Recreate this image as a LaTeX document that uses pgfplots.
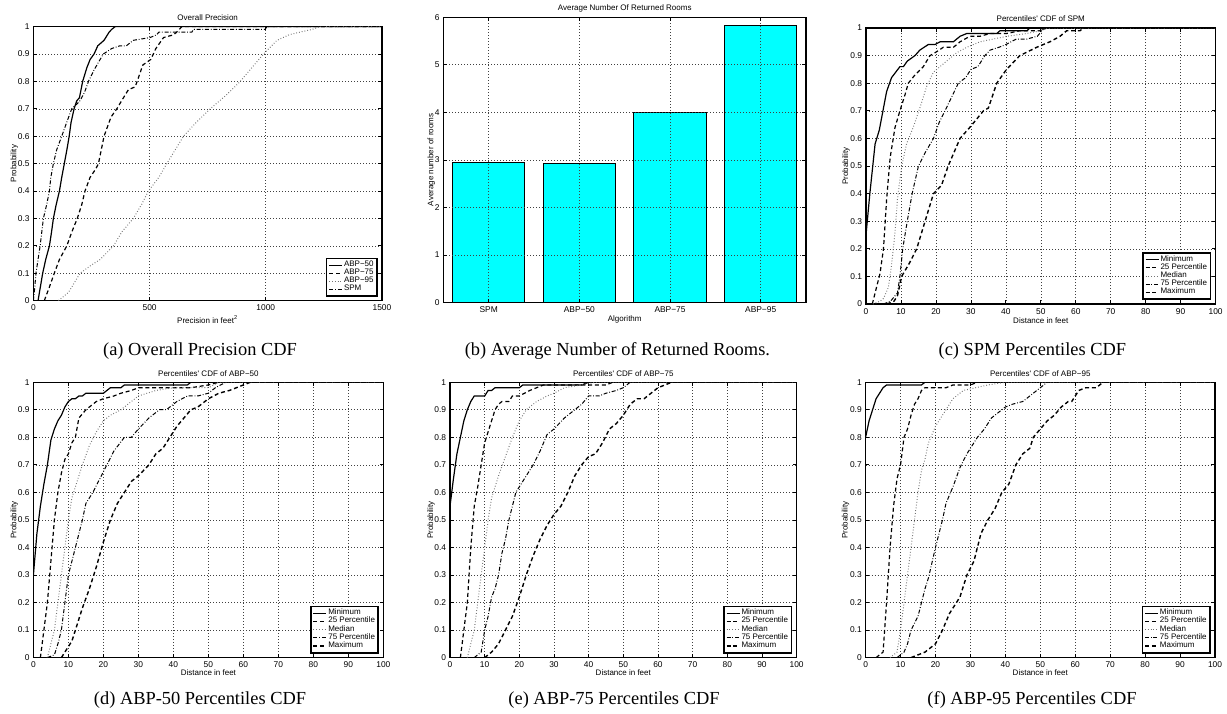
\documentclass[border=0pt]{standalone}
\usepackage{fontspec}
\setmainfont{Liberation Serif}
\newfontfamily\hv{Liberation Sans}
\usepackage{pgfplots}
\pgfplotsset{compat=1.18}
\definecolor{mcyan}{rgb}{0,1,1}

\pgfplotsset{
  mat/.style={
    scale only axis, anchor=south west,
    tick align=inside, xtick pos=both, ytick pos=both,
    xticklabel pos=lower, yticklabel pos=left,
    major tick length=1.8pt,
    tick style={black, line width=0.35pt},
    axis line style={black, line width=0.6pt},
    grid=major,
    major grid style={black!75, line width=0.3pt, dash pattern=on 0.3pt off 1.2pt},
    font=\hv\fontsize{4}{4.8}\selectfont,
    ticklabel style={font=\hv\fontsize{4.2}{5}\selectfont},
    xticklabel style={yshift=1.3pt},
    yticklabel style={xshift=1.6pt},
    /pgf/number format/assume math mode=true,
    /pgf/number format/1000 sep={},
    every axis title shift=0pt,
    title style={at={(axis description cs:0.5,1)}, anchor=center, yshift=4.5pt,
      font=\hv\fontsize{4}{4.8}\selectfont},
    legend cell align=left,
    legend style={at={(axis description cs:1,0)}, anchor=south east, xshift=-2.2pt, yshift=2pt,
      draw=black, line width=0.8pt, fill=white, font=\hv\fontsize{4}{4.8}\selectfont,
      inner xsep=1pt, inner ysep=0.6pt, row sep=-1.5pt, nodes={inner sep=0.6pt}},
    legend image code/.code={\draw[##1] (0pt,0pt) -- (6.5pt,0pt);},
  },
  xlab/.style={every axis x label/.style={at={(axis description cs:0.5,0)}, yshift=-#1, anchor=center}},
  ylab/.style={every axis y label/.style={at={(axis description cs:0,0.5)}, xshift=-#1, rotate=90, anchor=center}},
  cdf/.style={mat, ymin=0, ymax=1, xmin=0, xmax=100,
    ytick={0,0.1,0.2,0.3,0.4,0.5,0.6,0.7,0.8,0.9,1}, xtick={0,10,...,100},
    ylabel={Probability}, xlabel={Distance in feet}},
  l1/.style={black, line width=0.6pt, solid},
  l2/.style={black, line width=0.6pt, dash pattern=on 2pt off 1.4pt},
  l3/.style={black!55, line width=0.5pt, dash pattern=on 0.4pt off 1pt},
  l4/.style={black, line width=0.5pt, dash pattern=on 2pt off 0.9pt on 0.4pt off 0.9pt},
  l5/.style={black, line width=0.7pt, dash pattern=on 2pt off 1.4pt},
}

\begin{document}
\begin{tikzpicture}
\useasboundingbox (0,0) rectangle (613.5pt,-356.5pt);

% (a) overall precision
\begin{axis}[mat, at={(16.7pt,-150.3pt)}, width=174.3pt, height=137pt,
  xmin=0, xmax=1500, ymin=0, ymax=1, xtick={0,500,1000,1500},
  ytick={0,0.1,0.2,0.3,0.4,0.5,0.6,0.7,0.8,0.9,1},
  title={Overall Precision}, xlabel={Precision in feet\textsuperscript{2}}, ylabel={Probability},
  xlab=9.5pt, ylab=9.5pt]
\addplot[l1] coordinates {(20,0) (30,0.05) (40,0.1) (53,0.15) (69,0.2) (78,0.25) (86,0.3) (98,0.35) (112,0.4) (122,0.45) (133,0.5) (144,0.55) (154,0.6) (162,0.65) (175,0.7) (187,0.73) (198,0.74) (212,0.8) (230,0.85) (244,0.88) (261,0.9) (277,0.93) (304,0.95) (326,0.98) (337,0.99) (352,1) (1500,1)};
\addplot[l2] coordinates {(47,0) (69,0.05) (90,0.1) (112,0.15) (144,0.2) (165,0.25) (189,0.3) (208,0.35) (222,0.4) (244,0.45) (268,0.48) (280,0.5) (304,0.6) (334,0.67) (359,0.7) (380,0.73) (409,0.77) (438,0.78) (471,0.86) (505,0.88) (527,0.92) (560,0.96) (603,0.97) (617,0.98) (639,1) (1500,1)};
\addplot[l3] coordinates {(108,0) (151,0.03) (201,0.1) (250,0.13) (287,0.15) (345,0.2) (380,0.25) (430,0.3) (465,0.35) (495,0.4) (540,0.45) (574,0.5) (610,0.55) (646,0.6) (700,0.65) (761,0.7) (830,0.75) (890,0.8) (940,0.85) (990,0.9) (1048,0.95) (1100,0.97) (1148,0.98) (1200,0.99) (1234,1) (1500,1)};
\addplot[l4] coordinates {(0,0) (6,0.05) (11,0.1) (20,0.15) (29,0.2) (36,0.25) (43,0.3) (57,0.35) (69,0.4) (75,0.45) (86,0.5) (100,0.55) (122,0.6) (143,0.65) (165,0.7) (190,0.72) (201,0.73) (220,0.76) (237,0.8) (260,0.84) (280,0.87) (301,0.9) (337,0.92) (372,0.93) (400,0.93) (430,0.95) (502,0.96) (530,0.97) (540,0.98) (682,0.98) (689,0.99) (997,0.99) (1005,1) (1500,1)};
\legend{ABP−50, ABP−75, ABP−95, SPM}
\end{axis}

% (b) average number of returned rooms
\begin{axis}[mat, at={(221.7pt,-151.3pt)}, width=181.3pt, height=142.7pt, axis on top,
  xmin=0.5, xmax=4.5, ymin=0, ymax=6, xtick={1,2,3,4}, ytick={0,1,2,3,4,5,6},
  xticklabels={SPM, ABP−50, ABP−75, ABP−95},
  title={Average Number Of Returned Rooms}, xlabel={Algorithm}, ylabel={Average number of rooms},
  xlab=8.5pt, ylab=6pt]
\addplot[ybar, bar width=0.8, fill=mcyan, draw=black, line width=0.5pt] coordinates {(1,2.95) (2,2.93) (3,4.0) (4,5.82)};
\end{axis}

% (c) SPM percentiles
\begin{axis}[cdf, at={(433pt,-152pt)}, width=174.8pt, height=138pt,
  title={Percentiles' CDF of SPM}, xlab=8.5pt, ylab=10pt]
\addplot[l1] coordinates {(0,0.25) (1.1,0.4) (2.6,0.58) (3.8,0.63) (5,0.71) (5.9,0.77) (7.3,0.82) (9.7,0.86) (10.7,0.86) (11.8,0.88) (14,0.9) (15.4,0.92) (17.8,0.94) (19.7,0.94) (21.2,0.95) (25,0.95) (26.9,0.97) (28.8,0.98) (37.4,0.98) (38.3,0.99) (46,0.99) (46.9,1) (100,1)};
\addplot[l2] coordinates {(1.8,0) (3,0.06) (4,0.11) (5,0.2) (5.9,0.38) (6.9,0.53) (8.3,0.64) (9.7,0.7) (11.2,0.76) (12.1,0.8) (14,0.83) (16.4,0.86) (18.3,0.9) (19.7,0.91) (22.1,0.93) (25,0.93) (26.9,0.95) (29.7,0.97) (32.6,0.97) (35.5,0.98) (40.2,0.98) (44,0.99) (49.8,0.99) (51.7,1) (100,1)};
\addplot[l3] coordinates {(2,0) (4,0.01) (5,0.02) (6.4,0.06) (7.3,0.14) (8.3,0.26) (9,0.38) (10.2,0.5) (11.6,0.58) (13.5,0.64) (15.4,0.71) (17.4,0.79) (19.3,0.84) (22.1,0.87) (25.9,0.91) (28.8,0.93) (32.6,0.95) (36.4,0.96) (40.2,0.97) (46,0.98) (49.8,0.99) (51.2,1) (100,1)};
\addplot[l4] coordinates {(5,0) (7,0.01) (9,0.04) (9.7,0.1) (10.5,0.2) (11.8,0.3) (13.2,0.4) (15,0.5) (17,0.55) (19.3,0.6) (21,0.66) (22.6,0.7) (24.5,0.75) (26.4,0.8) (28.5,0.82) (30,0.85) (32,0.86) (34,0.9) (35.5,0.92) (38,0.93) (40,0.94) (43,0.96) (46,0.96) (49,0.97) (51,1) (100,1)};
\addplot[l5] coordinates {(6,0) (8,0.01) (9,0.03) (10.2,0.1) (12.5,0.15) (14.5,0.2) (16.9,0.3) (19.3,0.4) (21.6,0.43) (23.5,0.5) (26.9,0.6) (29.7,0.64) (33.6,0.7) (35,0.71) (37.4,0.8) (40.2,0.85) (44,0.9) (48.8,0.93) (52.6,0.95) (55.5,0.97) (57.4,0.99) (61.2,0.99) (62.2,1) (100,1)};
\legend{Minimum, 25 Percentile, Median, 75 Percentile, Maximum}
\end{axis}

% (d) ABP-50 percentiles
\begin{axis}[cdf, at={(16.7pt,-328.8pt)}, width=175pt, height=137.7pt,
  title={Percentiles' CDF of ABP−50}, xlab=7.5pt, ylab=9.5pt]
\addplot[l1] coordinates {(0,0.3) (1,0.45) (2,0.55) (3,0.63) (4,0.7) (5,0.79) (6,0.83) (7,0.86) (8,0.88) (9,0.91) (10,0.93) (11,0.94) (12,0.94) (13,0.95) (14,0.95) (15,0.96) (20,0.96) (22,0.98) (25,0.98) (26,0.99) (44,0.99) (45,1) (100,1)};
\addplot[l2] coordinates {(2,0) (3,0.1) (4,0.2) (5,0.35) (6,0.5) (7,0.6) (8,0.67) (9,0.72) (10,0.74) (11,0.78) (12,0.8) (13,0.87) (15,0.9) (17,0.92) (18,0.93) (20,0.94) (23,0.95) (25,0.96) (28,0.97) (30,0.98) (45,0.98) (50,0.99) (53,1) (100,1)};
\addplot[l3] coordinates {(4,0) (5,0.05) (6,0.1) (7,0.2) (8,0.3) (9,0.4) (10,0.5) (11,0.58) (12,0.62) (14,0.7) (16,0.77) (18,0.82) (20,0.86) (22,0.88) (25,0.9) (28,0.93) (30,0.95) (35,0.97) (40,0.98) (50,0.98) (53,1) (100,1)};
\addplot[l4] coordinates {(4,0) (6,0.01) (7,0.05) (8,0.1) (9,0.2) (10,0.3) (12,0.4) (14,0.5) (15,0.56) (17,0.6) (19,0.65) (21,0.7) (23,0.75) (26,0.8) (28,0.8) (30,0.83) (33,0.87) (36,0.9) (38,0.9) (41,0.93) (44,0.95) (47,0.95) (50,0.96) (52,0.98) (55,1) (100,1)};
\addplot[l5] coordinates {(8,0) (10,0.04) (11,0.06) (12,0.1) (14,0.18) (16,0.25) (18,0.33) (20,0.42) (22,0.5) (24,0.56) (26,0.6) (28,0.64) (30,0.66) (33,0.7) (35,0.74) (37,0.76) (39,0.8) (41,0.84) (43,0.87) (45,0.9) (47,0.91) (50,0.94) (53,0.96) (56,0.97) (60,0.99) (62,1) (100,1)};
\legend{Minimum, 25 Percentile, Median, 75 Percentile, Maximum}
\end{axis}

% (e) ABP-75 percentiles
\begin{axis}[cdf, at={(225pt,-328.8pt)}, width=173.3pt, height=137.7pt,
  title={Percentiles' CDF of ABP−75}, xlab=7.5pt, ylab=9.5pt]
\addplot[l1] coordinates {(0,0.55) (1,0.65) (2,0.74) (3,0.8) (4,0.86) (5,0.9) (6,0.93) (7,0.95) (10,0.95) (11,0.97) (12,0.97) (13,0.98) (20,0.98) (21,0.99) (38,0.99) (40,1) (100,1)};
\addplot[l2] coordinates {(3,0) (4,0.1) (5,0.2) (6,0.4) (7,0.55) (8,0.62) (9,0.7) (10,0.78) (11,0.82) (12,0.86) (13,0.9) (14,0.92) (15,0.93) (17,0.93) (18,0.95) (20,0.95) (23,0.97) (27,0.99) (45,0.99) (47,1) (100,1)};
\addplot[l3] coordinates {(5,0) (6,0.05) (7,0.1) (8,0.2) (9,0.3) (10,0.4) (11,0.5) (12,0.58) (14,0.66) (16,0.73) (18,0.8) (20,0.86) (22,0.9) (25,0.93) (28,0.95) (30,0.96) (33,0.98) (38,0.99) (42,1) (100,1)};
\addplot[l4] coordinates {(7,0) (9,0.02) (10,0.1) (11,0.15) (12,0.22) (13,0.25) (14,0.3) (15,0.38) (16,0.43) (17,0.5) (18,0.55) (19,0.6) (20,0.62) (22,0.66) (24,0.7) (26,0.75) (28,0.81) (30,0.83) (33,0.87) (36,0.9) (38,0.92) (40,0.95) (43,0.95) (45,0.96) (48,0.97) (50,0.98) (52,1) (100,1)};
\addplot[l5] coordinates {(10,0) (12,0.02) (14,0.05) (16,0.1) (18,0.15) (20,0.22) (22,0.3) (24,0.37) (26,0.43) (28,0.48) (30,0.52) (32,0.55) (34,0.6) (36,0.66) (38,0.7) (40,0.73) (42,0.74) (44,0.78) (46,0.83) (48,0.85) (50,0.88) (52,0.92) (54,0.94) (56,0.94) (58,0.96) (60,0.98) (62,0.99) (64,1) (100,1)};
\legend{Minimum, 25 Percentile, Median, 75 Percentile, Maximum}
\end{axis}

% (f) ABP-95 percentiles
\begin{axis}[cdf, at={(432.8pt,-328.8pt)}, width=174.7pt, height=137.7pt,
  title={Percentiles' CDF of ABP−95}, xlab=7.5pt, ylab=10pt]
\addplot[l1] coordinates {(0,0.8) (1,0.86) (2,0.9) (3,0.94) (4,0.96) (5,0.98) (6,0.99) (16,0.99) (17,1) (100,1)};
\addplot[l2] coordinates {(3,0) (5,0.02) (6,0.2) (7,0.4) (8,0.55) (9,0.65) (10,0.7) (11,0.8) (12,0.83) (13,0.88) (14,0.92) (15,0.94) (16,0.97) (17,0.98) (23,0.98) (25,0.99) (30,0.99) (32,1) (100,1)};
\addplot[l3] coordinates {(7,0) (9,0.02) (10,0.1) (11,0.2) (12,0.3) (13,0.4) (14,0.5) (15,0.6) (16,0.68) (17,0.72) (18,0.78) (20,0.84) (22,0.88) (25,0.94) (28,0.97) (35,0.99) (40,1) (100,1)};
\addplot[l4] coordinates {(9,0) (11,0.02) (12,0.05) (13,0.1) (15,0.15) (16,0.2) (17,0.25) (18,0.29) (20,0.4) (22,0.5) (23,0.56) (25,0.62) (27,0.69) (29,0.74) (30,0.76) (32,0.8) (34,0.83) (36,0.87) (38,0.89) (40,0.91) (42,0.92) (45,0.93) (47,0.95) (50,0.98) (52,1) (100,1)};
\addplot[l5] coordinates {(13,0) (15,0.01) (17,0.02) (20,0.05) (22,0.1) (24,0.16) (26,0.2) (27,0.22) (29,0.3) (31,0.35) (33,0.45) (35,0.5) (37,0.54) (39,0.6) (41,0.63) (43,0.7) (45,0.74) (47,0.76) (48,0.8) (50,0.83) (52,0.86) (54,0.88) (56,0.91) (58,0.93) (59,0.93) (61,0.97) (63,0.98) (66,0.98) (68,1) (100,1)};
\legend{Minimum, 25 Percentile, Median, 75 Percentile, Maximum}
\end{axis}

% captions
\begin{scope}[every node/.style={font=\fontsize{9.2}{11}\selectfont, inner sep=0pt}]
\node at (100pt,-175.5pt) {(a) Overall Precision CDF};
\node at (308.7pt,-175.5pt) {(b) Average Number of Returned Rooms.};
\node at (516.2pt,-175.5pt) {(c) SPM Percentiles CDF};
\node at (100pt,-350pt) {(d) ABP-50 Percentiles CDF};
\node at (307pt,-350pt) {(e) ABP-75 Percentiles CDF};
\node at (516pt,-350pt) {(f) ABP-95 Percentiles CDF};
\end{scope}
\end{tikzpicture}
\end{document}
